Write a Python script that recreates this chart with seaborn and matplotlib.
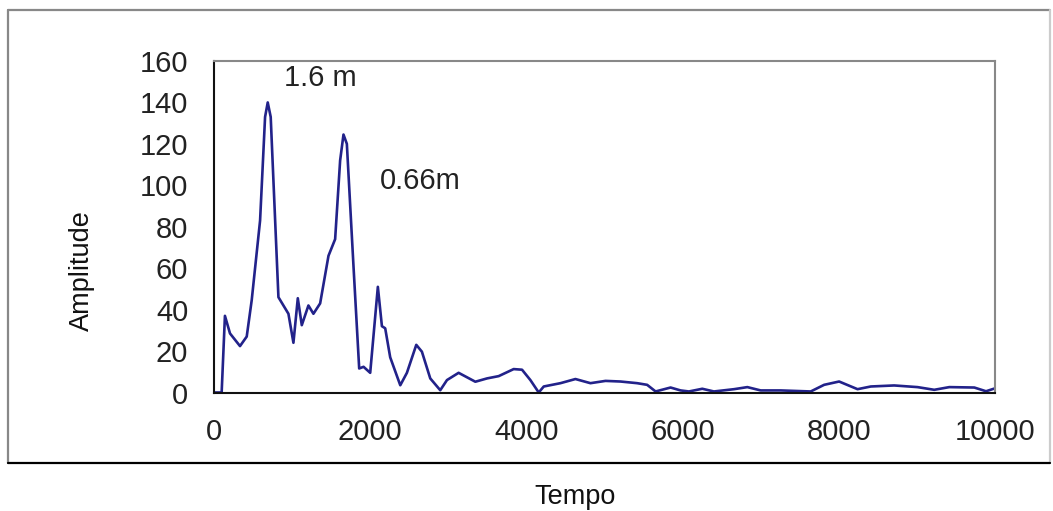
import numpy as np
import pandas as pd
import matplotlib
matplotlib.use("Agg")
import matplotlib.pyplot as plt
import seaborn as sns
from matplotlib.lines import Line2D

# values
tempo = [0, 98, 140, 205, 333, 419, 483, 590, 654, 688, 726, 825, 953, 1017,
         1073, 1124, 1209, 1273, 1359, 1466, 1551, 1615, 1658, 1701, 1786,
         1859, 1915, 2000, 2098, 2150, 2192, 2256, 2385, 2470, 2590, 2662,
         2769, 2897, 2983, 3132, 3346, 3496, 3645, 3837, 3944, 4051, 4158,
         4222, 4436, 4628, 4820, 5013, 5205, 5418, 5546, 5654, 5846, 5974,
         6081, 6252, 6401, 6658, 6829, 7000, 7256, 7641, 7812, 8004, 8240,
         8410, 8709, 9008, 9222, 9415, 9735, 9885, 10000]
amplitude = [0, 0, 37, 28.5, 22.4, 27, 44.6, 83, 133, 140, 133, 46, 38, 24,
             45.5, 32.5, 42, 38, 43, 66, 74, 112, 124.5, 120, 61,
             11.6, 12.4, 9.5, 51, 32, 31, 17, 3.5, 9.5, 23, 19.7,
             6.8, 1.1, 6, 9.5, 5.2, 6.8, 7.9, 11.3, 11, 6, 0,
             2.9, 4.5, 6.5, 4.5, 5.6, 5.3, 4.5, 3.7, 0.5, 2.4, 1,
             0.5, 1.8, 0.5, 1.6, 2.6, 1, 1, 0.5, 3.7, 5.3, 1.6,
             2.9, 3.4, 2.6, 1.3, 2.6, 2.4, 0.6, 2]

x_ticks = [0, 2000, 4000, 6000, 8000, 10000]
y_ticks = [0, 20, 40, 60, 80, 100, 120, 140, 160]

peak_labels = ["1.6 m", "0.66m"]
peak_label_pos = [(1357, 152), (2640, 102)]

df = pd.DataFrame({"Tempo": tempo, "Amplitude": amplitude})

sns.set_theme(style="white")
plt.rcParams["font.family"] = ["Liberation Sans", "DejaVu Sans"]

fig = plt.figure(figsize=(10.53, 5.11), dpi=100)
ax = fig.add_axes([214 / 1053, 118.5 / 511, 781 / 1053, 331.5 / 511])

sns.lineplot(data=df, x="Tempo", y="Amplitude", ax=ax, color="#22228a",
             linewidth=1.9, estimator=None, sort=False)

ax.set_xlim(0, 10000)
ax.set_ylim(0, 160)
ax.set_xticks(x_ticks)
ax.set_yticks(y_ticks)
ax.tick_params(axis="both", direction="out", length=7.5, width=1.2,
               color="#222222", labelsize=21, labelcolor="#222222")
ax.tick_params(axis="y", pad=11)
ax.tick_params(axis="x", pad=11)

for side in ["left", "bottom"]:
    ax.spines[side].set_color("#111111")
    ax.spines[side].set_linewidth(1.5)
for side in ["top", "right"]:
    ax.spines[side].set_color("#888888")
    ax.spines[side].set_linewidth(1.5)

ax.set_xlabel("Tempo", fontsize=19.5, color="#111111")
ax.set_ylabel("Amplitude", fontsize=19.5, color="#111111")
ax.xaxis.label.set_va("center")
ax.yaxis.label.set_va("center")
ax.xaxis.set_label_coords((575 - 214) / 781, (392.5 - 497) / 331.5)
ax.yaxis.set_label_coords((82 - 214) / 781, (392.5 - 271) / 331.5)

for txt, (px, py) in zip(peak_labels, peak_label_pos):
    ax.text(px, py, txt, fontsize=21, color="#222222", ha="center", va="center")

# outer chart frame
x0, x1 = 8 / 1053, 1050 / 1053
y0, y1 = 48 / 511, 501 / 511
for xs, ys, c in [([x0, x1], [y1, y1], "#888888"),
                  ([x0, x0], [y0, y1], "#888888"),
                  ([x1, x1], [y0, y1], "#cccccc"),
                  ([x0, x1], [y0, y0], "#000000")]:
    fig.add_artist(Line2D(xs, ys, transform=fig.transFigure, color=c, linewidth=1.6))

fig.savefig("out.png", dpi=100)
plt.close(fig)
